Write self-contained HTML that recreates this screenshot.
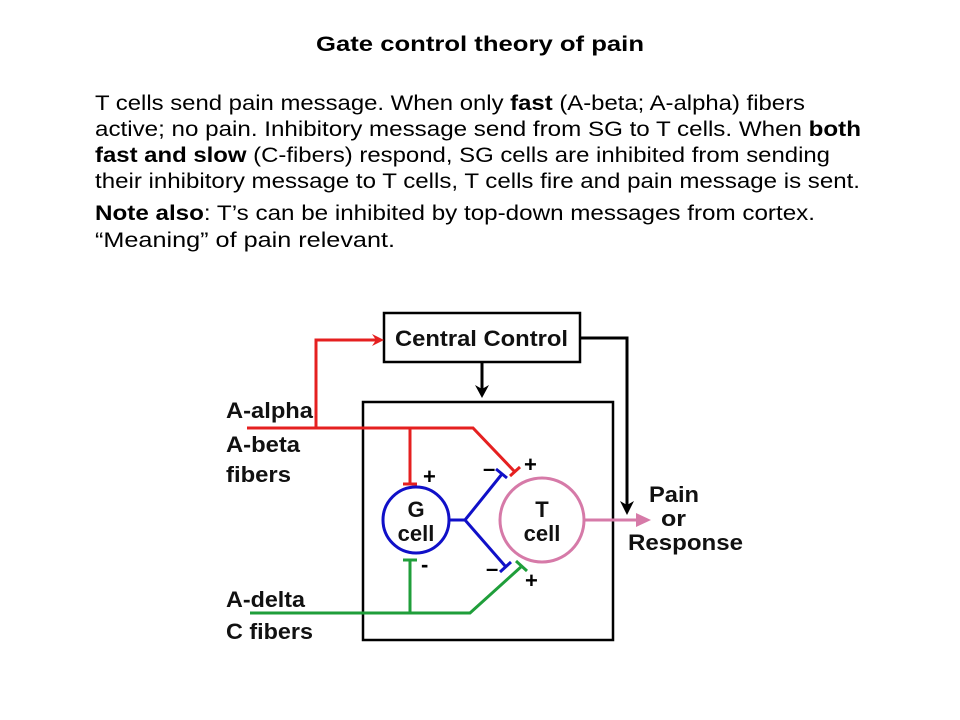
<!DOCTYPE html>
<html><head><meta charset="utf-8"><style>
body{margin:0;background:#fff;}
svg{display:block}
</style></head><body>
<svg width="960" height="720" xmlns="http://www.w3.org/2000/svg">
<g font-family="Liberation Sans, sans-serif" fill="#000">
<text x="480" y="51" font-size="21" font-weight="bold" text-anchor="middle" textLength="328" lengthAdjust="spacingAndGlyphs">Gate control theory of pain</text>
<g font-size="21">
<text x="95" y="110" textLength="710" lengthAdjust="spacingAndGlyphs">T cells send pain message. When only <tspan font-weight="bold">fast</tspan> (A-beta; A-alpha) fibers</text>
<text x="95" y="136" textLength="766" lengthAdjust="spacingAndGlyphs">active; no pain. Inhibitory message send from SG to T cells. When <tspan font-weight="bold">both</tspan></text>
<text x="95" y="162" textLength="735" lengthAdjust="spacingAndGlyphs"><tspan font-weight="bold">fast and slow</tspan> (C-fibers) respond, SG cells are inhibited from sending</text>
<text x="95" y="188" textLength="765" lengthAdjust="spacingAndGlyphs">their inhibitory message to T cells, T cells fire and pain message is sent.</text>
<text x="95" y="220" textLength="720" lengthAdjust="spacingAndGlyphs"><tspan font-weight="bold">Note also</tspan>: T’s can be inhibited by top-down messages from cortex.</text>
<text x="95" y="247" textLength="300" lengthAdjust="spacingAndGlyphs">“Meaning” of pain relevant.</text>
</g>
</g>
<rect x="384" y="313" width="196" height="49" fill="none" stroke="#000" stroke-width="2.5"/>
<text x="395" y="346" font-family="Liberation Sans, sans-serif" font-size="22" font-weight="bold" textLength="173" lengthAdjust="spacingAndGlyphs" fill="#111">Central Control</text>
<rect x="363" y="402" width="250" height="238" fill="none" stroke="#000" stroke-width="2.5"/>
<g stroke="#000" stroke-width="3" fill="none">
<line x1="482" y1="362" x2="482" y2="392"/>
<polyline points="580,338 627,338 627,508"/>
</g>
<polygon points="475,385 482,398 489,385 482,389" fill="#000"/>
<polygon points="620,501 627,515 634,501 627,505" fill="#000"/>
<g stroke="#e52020" stroke-width="3" fill="none">
<polyline points="247,428 473,428 515,472"/>
<polyline points="316,428 316,340 378,340"/>
<line x1="410" y1="428" x2="410" y2="484"/>
<line x1="403" y1="484" x2="417" y2="484"/>
<line x1="510" y1="476" x2="520" y2="467"/>
</g>
<polygon points="372,334 384,340 372,346 376,340" fill="#e52020"/>
<g stroke="#1f9e3a" stroke-width="3" fill="none">
<polyline points="250,613 470,613 522,566"/>
<line x1="410" y1="613" x2="410" y2="560"/>
<line x1="403" y1="560" x2="417" y2="560"/>
<line x1="516" y1="561" x2="527" y2="571"/>
</g>
<circle cx="416" cy="520" r="33" fill="none" stroke="#1010c8" stroke-width="3"/>
<g stroke="#1010c8" stroke-width="3" fill="none">
<polyline points="449,520 465,520 502,474"/>
<polyline points="465,520 506,567"/>
<line x1="496" y1="469" x2="507" y2="478"/>
<line x1="500" y1="572" x2="511" y2="562"/>
</g>
<circle cx="542" cy="520" r="42" fill="none" stroke="#d67aa8" stroke-width="3"/>
<line x1="584" y1="520" x2="640" y2="520" stroke="#d67aa8" stroke-width="3"/>
<polygon points="636,513 651,520 636,527" fill="#d67aa8"/>
<g font-family="Liberation Sans, sans-serif" font-size="22" font-weight="bold" text-anchor="middle" fill="#111">
<text x="416" y="517">G</text><text x="416" y="541">cell</text>
<text x="542" y="517">T</text><text x="542" y="541">cell</text>
</g>
<g font-family="Liberation Sans, sans-serif" font-size="22" font-weight="bold">
<text x="423" y="484">+</text>
<text x="524" y="472">+</text>
<text x="525" y="588">+</text>
<text x="483" y="476">–</text>
<text x="486" y="576">–</text>
<text x="421" y="572">-</text>
</g>
<g font-family="Liberation Sans, sans-serif" font-size="22" font-weight="bold" fill="#111">
<text x="226" y="418" textLength="87" lengthAdjust="spacingAndGlyphs">A-alpha</text>
<text x="226" y="452" textLength="74" lengthAdjust="spacingAndGlyphs">A-beta</text>
<text x="226" y="482" textLength="65" lengthAdjust="spacingAndGlyphs">fibers</text>
<text x="226" y="607" textLength="79" lengthAdjust="spacingAndGlyphs">A-delta</text>
<text x="226" y="639" textLength="87" lengthAdjust="spacingAndGlyphs">C fibers</text>
<text x="649" y="502" textLength="50" lengthAdjust="spacingAndGlyphs">Pain</text>
<text x="661" y="526" textLength="25" lengthAdjust="spacingAndGlyphs">or</text>
<text x="628" y="550" textLength="115" lengthAdjust="spacingAndGlyphs">Response</text>
</g>
</svg>
</body></html>
